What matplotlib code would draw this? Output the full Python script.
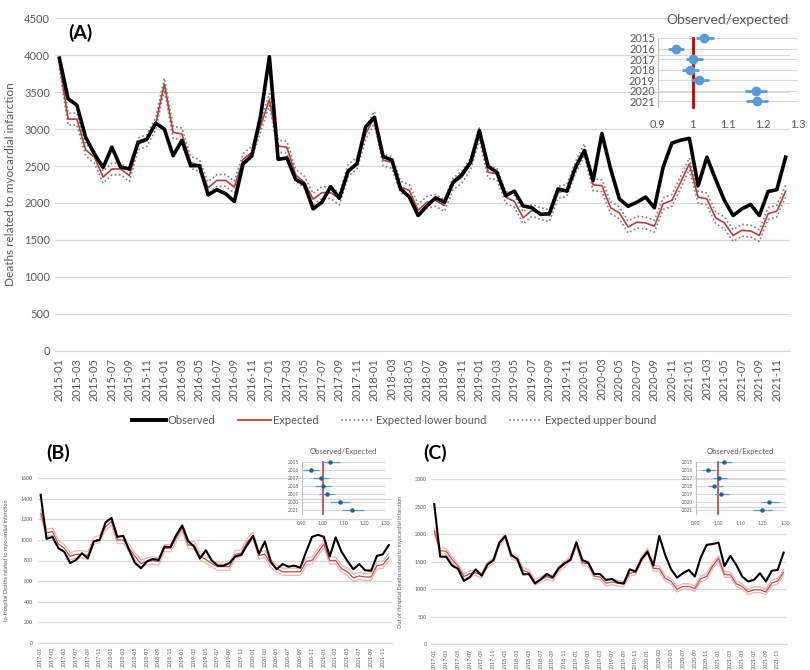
import matplotlib
matplotlib.use("Agg")
import matplotlib.pyplot as plt
import numpy as np
from matplotlib.lines import Line2D

plt.rcParams['font.family'] = ['Lato', 'DejaVu Sans']

# ---------------- data ----------------
months_a = [f"{y}-{m:02d}" for y in range(2015, 2022) for m in range(1, 13)]
months_bc = [f"{y}-{m:02d}" for y in range(2017, 2022) for m in range(1, 13)]

obs_a = [3960, 3410, 3325, 2890, 2665, 2480, 2755, 2485, 2460, 2820, 2865, 3080,
         3000, 2640, 2845, 2505, 2505, 2110, 2180, 2125, 2020, 2530, 2640, 3180,
         3980, 2590, 2610, 2320, 2250, 1920, 2010, 2220, 2065, 2430, 2530, 3030,
         3160, 2630, 2580, 2190, 2080, 1830, 1960, 2070, 2010, 2280, 2385, 2550,
         2980, 2495, 2415, 2100, 2160, 1960, 1935, 1845, 1855, 2190, 2160, 2485,
         2710, 2305, 2940, 2460, 2055, 1955, 2010, 2080, 1935, 2485, 2810, 2850,
         2875, 2235, 2620, 2320, 2035, 1830, 1920, 1980, 1830, 2155, 2180, 2620]
exp_a = [3900, 3135, 3135, 2720, 2620, 2350, 2460, 2460, 2370, 2800, 2845, 3070,
         3610, 2955, 2935, 2550, 2505, 2205, 2305, 2305, 2215, 2590, 2685, 3045,
         3400, 2770, 2755, 2380, 2280, 2050, 2140, 2140, 2055, 2440, 2540, 2935,
         3160, 2580, 2550, 2215, 2170, 1900, 2010, 2035, 1965, 2260, 2350, 2530,
         2935, 2415, 2395, 2080, 2020, 1800, 1900, 1855, 1830, 2145, 2170, 2485,
         2720, 2245, 2235, 1935, 1865, 1675, 1740, 1730, 1685, 1990, 2035, 2280,
         2530, 2080, 2055, 1800, 1730, 1560, 1630, 1620, 1560, 1855, 1890, 2160]
low_a = [3820, 3055, 3055, 2640, 2540, 2270, 2380, 2380, 2290, 2720, 2765, 2990,
         3530, 2875, 2855, 2470, 2425, 2125, 2225, 2225, 2135, 2510, 2605, 2965,
         3320, 2690, 2675, 2300, 2200, 1970, 2060, 2060, 1975, 2360, 2460, 2855,
         3080, 2500, 2470, 2135, 2090, 1820, 1930, 1955, 1885, 2180, 2270, 2450,
         2855, 2335, 2315, 2000, 1940, 1720, 1820, 1775, 1750, 2065, 2090, 2405,
         2640, 2165, 2155, 1855, 1785, 1595, 1660, 1650, 1605, 1910, 1955, 2200,
         2450, 2000, 1975, 1720, 1650, 1480, 1550, 1540, 1480, 1775, 1810, 2080]
up_a = [3980, 3215, 3215, 2800, 2700, 2430, 2540, 2540, 2450, 2880, 2925, 3150,
        3690, 3035, 3015, 2630, 2585, 2285, 2385, 2385, 2295, 2670, 2765, 3125,
        3480, 2850, 2835, 2460, 2360, 2130, 2220, 2220, 2135, 2520, 2620, 3015,
        3240, 2660, 2630, 2295, 2250, 1980, 2090, 2115, 2045, 2340, 2430, 2610,
        3015, 2495, 2475, 2160, 2100, 1880, 1980, 1935, 1910, 2225, 2250, 2565,
        2800, 2325, 2315, 2015, 1945, 1755, 1820, 1810, 1765, 2070, 2115, 2360,
        2610, 2160, 2135, 1880, 1810, 1640, 1710, 1700, 1640, 1935, 1970, 2240]

obs_b = [1440, 1010, 1030, 920, 885, 775, 805, 870, 820, 985, 1000, 1170,
         1215, 1030, 1040, 900, 775, 725, 790, 815, 805, 935, 930, 1050,
         1140, 990, 935, 820, 900, 800, 750, 750, 775, 840, 855, 950,
         1040, 865, 985, 790, 715, 765, 740, 750, 730, 885, 1030, 1050,
         1030, 840, 1025, 885, 795, 715, 765, 705, 700, 845, 860, 950]
exp_b = [1260, 1070, 1080, 960, 920, 840, 860, 860, 850, 990, 1010, 1130,
         1180, 1000, 1000, 920, 840, 770, 790, 800, 790, 920, 920, 1020,
         1120, 950, 950, 840, 810, 770, 740, 740, 740, 860, 870, 980,
         1040, 850, 860, 770, 720, 690, 690, 690, 690, 790, 800, 880,
         960, 800, 800, 720, 690, 630, 650, 640, 640, 750, 760, 830]
low_b = [1225, 1035, 1045, 925, 885, 805, 825, 825, 815, 955, 975, 1095,
         1145, 965, 965, 885, 805, 735, 755, 765, 755, 885, 885, 985,
         1085, 915, 915, 805, 775, 735, 705, 705, 705, 825, 835, 945,
         1005, 815, 825, 735, 685, 655, 655, 655, 655, 755, 765, 845,
         925, 765, 765, 685, 655, 595, 615, 605, 605, 715, 725, 795]
up_b = [1295, 1105, 1115, 995, 955, 875, 895, 895, 885, 1025, 1045, 1165,
        1215, 1035, 1035, 955, 875, 805, 825, 835, 825, 955, 955, 1055,
        1155, 985, 985, 875, 845, 805, 775, 775, 775, 895, 905, 1015,
        1075, 885, 895, 805, 755, 725, 725, 725, 725, 825, 835, 915,
        995, 835, 835, 755, 725, 665, 685, 675, 675, 785, 795, 865]

obs_c = [2545, 1590, 1590, 1430, 1370, 1150, 1215, 1360, 1245, 1450, 1530, 1845,
         1965, 1620, 1550, 1270, 1275, 1105, 1180, 1275, 1215, 1380, 1470, 1530,
         1850, 1530, 1480, 1275, 1275, 1170, 1185, 1120, 1105, 1360, 1320, 1545,
         1680, 1430, 1965, 1620, 1360, 1210, 1290, 1350, 1230, 1575, 1805, 1820,
         1845, 1420, 1605, 1440, 1230, 1140, 1170, 1290, 1140, 1335, 1350, 1665]
exp_c = [2060, 1700, 1690, 1540, 1420, 1230, 1280, 1300, 1250, 1440, 1520, 1830,
         1950, 1600, 1560, 1340, 1300, 1130, 1170, 1230, 1190, 1360, 1450, 1560,
         1820, 1480, 1460, 1240, 1220, 1110, 1130, 1110, 1090, 1290, 1310, 1540,
         1700, 1380, 1370, 1200, 1140, 1000, 1050, 1050, 1010, 1190, 1230, 1420,
         1560, 1270, 1260, 1100, 1050, 950, 990, 990, 950, 1110, 1150, 1310]
low_c = [2010, 1650, 1640, 1490, 1370, 1180, 1230, 1250, 1200, 1390, 1470, 1780,
         1900, 1550, 1510, 1290, 1250, 1080, 1120, 1180, 1140, 1310, 1400, 1510,
         1770, 1430, 1410, 1190, 1170, 1060, 1080, 1060, 1040, 1240, 1260, 1490,
         1650, 1330, 1320, 1150, 1090, 950, 1000, 1000, 960, 1140, 1180, 1370,
         1510, 1220, 1210, 1050, 1000, 900, 940, 940, 900, 1060, 1100, 1260]
up_c = [2110, 1750, 1740, 1590, 1470, 1280, 1330, 1350, 1300, 1490, 1570, 1880,
        2000, 1650, 1610, 1390, 1350, 1180, 1220, 1280, 1240, 1410, 1500, 1610,
        1870, 1530, 1510, 1290, 1270, 1160, 1180, 1160, 1140, 1340, 1360, 1590,
        1750, 1430, 1420, 1250, 1190, 1050, 1100, 1100, 1060, 1240, 1280, 1470,
        1610, 1320, 1310, 1150, 1100, 1000, 1040, 1040, 1000, 1160, 1200, 1360]

years = ['2015', '2016', '2017', '2018', '2019', '2020', '2021']
ratio_a = [1.033, 0.953, 1.002, 0.992, 1.019, 1.180, 1.183]
rlo_a = [1.010, 0.930, 0.980, 0.970, 0.994, 1.150, 1.152]
rhi_a = [1.060, 0.976, 1.028, 1.017, 1.045, 1.212, 1.215]
ratio_b = [1.037, 0.943, 0.991, 1.000, 1.019, 1.081, 1.140]
rlo_b = [0.998, 0.907, 0.955, 0.964, 0.980, 1.037, 1.093]
rhi_b = [1.084, 0.984, 1.032, 1.040, 1.060, 1.131, 1.197]
ratio_c = [1.025, 0.955, 1.005, 0.983, 1.014, 1.230, 1.198]
rlo_c = [0.990, 0.925, 0.975, 0.955, 0.985, 1.190, 1.158]
rhi_c = [1.062, 0.990, 1.040, 1.020, 1.050, 1.275, 1.243]

legend_labels = ['Observed', 'Expected', 'Expected lower bound', 'Expected upper bound']

# ---------------- style ----------------
GRAY_TXT = '#595959'
GRID = '#d9d9d9'
RED_A = '#b5413f'
RED_BC = '#c0504d'
PINK = '#f0b4b4'
BLUE = '#5b9bd5'
DBLUE = '#2f5f8f'
DOT = (0, (1, 1.5))

W, H = 810, 670
fig = plt.figure(figsize=(8.1, 6.7), dpi=100)


def px_axes(left, top, right, bottom):
    return fig.add_axes([left / W, 1 - bottom / H, (right - left) / W, (bottom - top) / H])


def style_main(ax, fs_tick):
    for s in ['top', 'right', 'left']:
        ax.spines[s].set_visible(False)
    ax.spines['bottom'].set_color(GRID)
    ax.grid(axis='y', color=GRID, lw=0.9)
    ax.set_axisbelow(True)
    ax.tick_params(axis='both', length=0, colors=GRAY_TXT, labelsize=fs_tick)


# ---------------- Panel A ----------------
axA = px_axes(55, 18.3, 790, 350.7)
xa = np.arange(len(months_a))
axA.plot(xa, low_a, color='#7f7f7f', lw=1.2, ls=DOT)
axA.plot(xa, up_a, color='#7f7f7f', lw=1.2, ls=DOT)
axA.plot(xa, exp_a, color=RED_A, lw=1.2)
axA.plot(xa, obs_a, color='black', lw=2.6)
axA.set_xlim(-0.5, len(months_a) - 0.5)
axA.set_ylim(0, 4500)
axA.set_yticks(np.arange(0, 4501, 500))
axA.set_xticks(xa[::2])
axA.set_xticklabels(months_a[::2], rotation=90, fontsize=7.5)
style_main(axA, 8)
axA.tick_params(axis='x', pad=5)
axA.set_ylabel('Deaths related to myocardial infarction', color=GRAY_TXT, fontsize=8.5, labelpad=6)
fig.text(68 / W, 1 - 33 / H, '(A)', fontsize=14, fontweight='bold', va='center', ha='left')

# ---------------- Panel B ----------------
axB = px_axes(37.7, 478.3, 391.7, 642.7)
xb = np.arange(len(months_bc))
axB.plot(xb, low_b, color=PINK, lw=0.9)
axB.plot(xb, up_b, color=PINK, lw=0.9)
axB.plot(xb, exp_b, color=RED_BC, lw=0.9)
axB.plot(xb, obs_b, color='black', lw=1.5)
axB.set_xlim(-0.5, len(months_bc) - 0.5)
axB.set_ylim(0, 1600)
axB.set_yticks(np.arange(0, 1601, 200))
axB.set_xticks(xb[::2])
axB.set_xticklabels(months_bc[::2], rotation=90, fontsize=3.6)
style_main(axB, 3.8)
axB.tick_params(axis='x', pad=3)
axB.set_ylabel('In-Hospital Deaths related to myocardial infarction', color=GRAY_TXT, fontsize=4, labelpad=8)
fig.text(46 / W, 1 - 453 / H, '(B)', fontsize=14, fontweight='bold', va='center', ha='left')

# ---------------- Panel C ----------------
axC = px_axes(431.3, 479, 786.6, 644.3)
axC.plot(xb, low_c, color=PINK, lw=0.9)
axC.plot(xb, up_c, color=PINK, lw=0.9)
axC.plot(xb, exp_c, color=RED_BC, lw=0.9)
axC.plot(xb, obs_c, color='black', lw=1.5)
axC.set_xlim(-0.5, len(months_bc) - 0.5)
axC.set_ylim(0, 3000)
axC.set_yticks(np.arange(0, 3001, 500))
axC.set_xticks(xb[::2])
axC.set_xticklabels(months_bc[::2], rotation=90, fontsize=3.6)
style_main(axC, 3.8)
axC.tick_params(axis='x', pad=3)
axC.set_ylabel('Out of Hospital Deaths related to myocardial infarction', color=GRAY_TXT, fontsize=4, labelpad=8)
fig.text(423 / W, 1 - 453 / H, '(C)', fontsize=14, fontweight='bold', va='center', ha='left')


# ---------------- insets ----------------
def forest(ax, ratio, lo, hi, title, fs_title, fs_tick, msize, mcolor, ecolor, elw, rcolor, rlw, ticklabels):
    yy = np.arange(len(years))
    for y in yy:
        ax.axhline(y, color=GRID, lw=0.8, zorder=0)
    err = [np.array(ratio) - np.array(lo), np.array(hi) - np.array(ratio)]
    ax.errorbar(ratio, yy, xerr=err, fmt='o', color=mcolor, ecolor=ecolor, elinewidth=elw,
                markersize=msize, capsize=0, zorder=3, clip_on=False)
    ax.plot([1, 1], [0, 6.55], color=rcolor, lw=rlw, zorder=2, clip_on=False)
    ax.set_xlim(0.9, 1.3)
    ax.set_ylim(6.55, 0)
    ax.set_yticks(yy)
    ax.set_yticklabels(years)
    ax.set_xticks([0.9, 1.0, 1.1, 1.2, 1.3])
    ax.set_xticklabels(ticklabels)
    for s in ['top', 'right', 'bottom']:
        ax.spines[s].set_visible(False)
    ax.spines['left'].set_color('#bfbfbf')
    ax.tick_params(length=0, colors=GRAY_TXT, labelsize=fs_tick)
    ax.set_title(title, color=GRAY_TXT, fontsize=fs_title, pad=fs_title * 1.0)
    ax.patch.set_alpha(0)


insA = px_axes(657.7, 38, 798, 106.8)
forest(insA, ratio_a, rlo_a, rhi_a, 'Observed/expected', 10, 8, 6, BLUE, BLUE, 2, '#c00000', 2,
       ['0.9', '1', '1.1', '1.2', '1.3'])
insA.tick_params(axis='x', pad=9)
insA.tick_params(axis='y', pad=2)

insB = px_axes(301.8, 461.7, 385.4, 514.4)
forest(insB, ratio_b, rlo_b, rhi_b, 'Observed/Expected', 5.5, 3.4, 2.2, DBLUE, BLUE, 0.9, RED_BC, 1.3,
       ['0.90', '1.00', '1.10', '1.20', '1.30'])
insB.tick_params(axis='x', pad=5)
insB.tick_params(axis='y', pad=2)

insC = px_axes(696, 461.7, 785, 514.4)
forest(insC, ratio_c, rlo_c, rhi_c, 'Observed/Expected', 5.5, 3.4, 2.2, DBLUE, BLUE, 0.9, RED_BC, 1.3,
       ['0.90', '1.00', '1.10', '1.20', '1.30'])
insC.tick_params(axis='x', pad=5)
insC.tick_params(axis='y', pad=2)

# ---------------- legend ----------------
handles = [
    Line2D([], [], color='black', lw=2.8),
    Line2D([], [], color=RED_A, lw=1.3),
    Line2D([], [], color='#7f7f7f', lw=1.2, ls=DOT),
    Line2D([], [], color='#7f7f7f', lw=1.2, ls=DOT),
]
fig.legend(handles, legend_labels, loc='center', bbox_to_anchor=(394 / W, 1 - 420.7 / H), ncol=4,
           frameon=False, fontsize=8, handlelength=3.0, handletextpad=0.2, columnspacing=2.0,
           labelcolor=GRAY_TXT)

fig.savefig('out.png', dpi=100)
